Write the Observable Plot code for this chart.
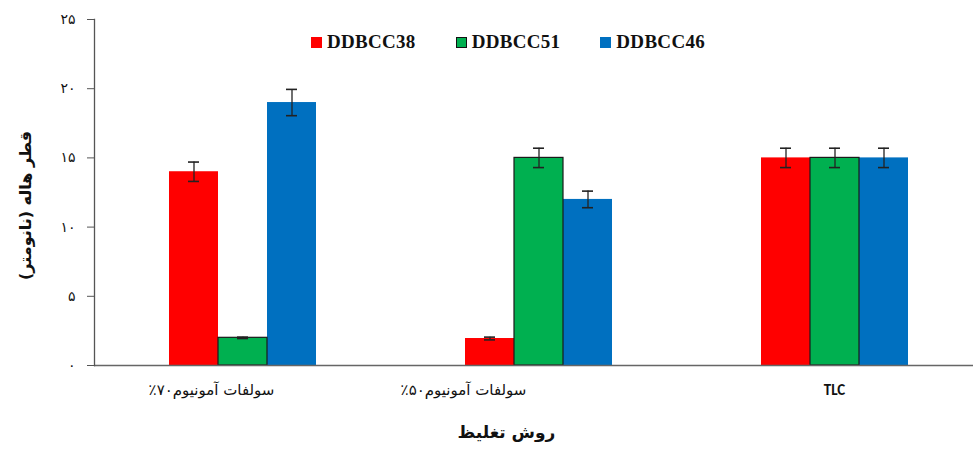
<!DOCTYPE html>
<html>
<head>
<meta charset="utf-8">
<script src="https://cdn.jsdelivr.net/npm/d3@7"></script>
<script src="https://cdn.jsdelivr.net/npm/@observablehq/plot@0.6"></script>
<style>
  body { margin: 0; background: #fff; }
  #wrap { position: relative; width: 973px; height: 450px; }
  #legend { position: absolute; top: 31px; left: 311px; display: flex; gap: 40px; align-items: center;
            font-family: "Liberation Serif", "Times New Roman", serif; font-weight: bold; font-size: 19px; color: #111; letter-spacing: 0.3px; }
  #legend .item { display: flex; align-items: center; gap: 5px; }
  #legend .sw { width: 11px; height: 11px; box-sizing: border-box; }
</style>
</head>
<body>
<div id="wrap"><div id="legend"></div></div>
<script>
const categories = ["سولفات آمونیوم۷۰٪", "سولفات آمونیوم۵۰٪", "TLC"];
const series = ["DDBCC38", "DDBCC51", "DDBCC46"];
const colors = ["#FF0000", "#00B050", "#0070C0"];
const values38 = [14.0, 1.95, 15.0];
const errors38 = [0.7, 0.1, 0.7];
const values51 = [2.0, 15.0, 15.0];
const errors51 = [0.05, 0.7, 0.7];
const values46 = [19.0, 12.0, 15.0];
const errors46 = [0.95, 0.6, 0.7];
const yTicks = [0, 5, 10, 15, 20, 25];
const yLabel = "قطر هاله (نانومتر)";
const xLabel = "روش تغلیظ";

const valueSets = [values38, values51, values46];
const errorSets = [errors38, errors51, errors46];
const rows = [];
categories.forEach((c, i) => series.forEach((s, j) => rows.push({cat: c, series: s, value: valueSets[j][i], err: errorSets[j][i]})));

const faDigits = "۰۱۲۳۴۵۶۷۸۹";
const fa = d => String(d).replace(/\d/g, m => faDigits[+m]);

const persianFont = "'DejaVu Sans', 'Liberation Serif', serif";

const chart = Plot.plot({
  width: 973,
  height: 450,
  marginTop: 19,
  marginBottom: 85,
  marginLeft: 94,
  marginRight: 0,
  style: {background: "transparent", overflow: "visible"},
  fx: {domain: categories, range: [94, 982], padding: 0, axis: null},
  x: {domain: series, paddingInner: 0, paddingOuter: 1.5, axis: null},
  y: {domain: [0, 25]},
  color: {domain: series, range: colors},
  marks: [
    Plot.axisY({ticks: yTicks, tickFormat: fa, tickSize: 7, tickPadding: 12, fontSize: 14, label: null, stroke: "#555", fill: "#111", fontFamily: persianFont}),
    Plot.barY(rows, {fx: "cat", x: "series", y: "value", fill: "series"}),
    Plot.barY(rows.filter(d => d.series === "DDBCC51"), {fx: "cat", x: "series", y: "value", fill: "none", stroke: "#1a1a1a", strokeWidth: 1.2}),
    Plot.ruleX(rows, {fx: "cat", x: "series", y1: d => d.value - d.err, y2: d => d.value + d.err, stroke: "#222", strokeWidth: 1.3}),
    Plot.tickY(rows, {fx: "cat", x: "series", y: d => d.value + d.err, insetLeft: 19, insetRight: 19, stroke: "#222", strokeWidth: 1.6}),
    Plot.tickY(rows, {fx: "cat", x: "series", y: d => d.value - d.err, insetLeft: 19, insetRight: 19, stroke: "#222", strokeWidth: 1.6}),
    Plot.ruleY([0], {stroke: "#666", strokeWidth: 1.3}),
    Plot.frame({anchor: "left", facetAnchor: "left", stroke: "#555", strokeWidth: 1.3}),
    Plot.text([categories[0]], {fx: d => d, text: d => d, frameAnchor: "bottom", dy: 29, dx: -31, fontSize: 15, fontFamily: persianFont, fill: "#111"}),
    Plot.text([categories[1]], {fx: d => d, text: d => d, frameAnchor: "bottom", dy: 29, dx: -75, fontSize: 15, fontFamily: persianFont, fill: "#111"}),
    Plot.text([categories[2]], {fx: d => d, text: d => d, frameAnchor: "bottom", dy: 29, fontSize: 15, fontWeight: "bold", fontFamily: "Carlito, 'Liberation Sans', Arial, sans-serif", fill: "#111"}),
    Plot.text([categories[1]], {fx: d => d, text: () => xLabel, frameAnchor: "bottom", dy: 72, dx: -32, fontSize: 17, fontWeight: "bold", fontFamily: persianFont, fill: "#111"}),
    Plot.text([categories[0]], {fx: d => d, text: () => yLabel, frameAnchor: "left", textAnchor: "middle", dx: -69, dy: 13, rotate: -90, fontSize: 16, fontWeight: "bold", fontFamily: persianFont, fill: "#111"})
  ]
});
// right-to-left base direction for Persian text
d3.select(chart).selectAll("text").filter(function () { return /[\u0600-\u06FF]/.test(this.textContent) && !/^[\u06F0-\u06F9]+$/.test(this.textContent); })
  .attr("direction", "rtl").style("unicode-bidi", "embed");
document.getElementById("wrap").prepend(chart);

const legend = document.getElementById("legend");
series.forEach((s, i) => {
  const item = document.createElement("div");
  item.className = "item";
  const sw = document.createElement("div");
  sw.className = "sw";
  sw.style.background = colors[i];
  if (s === "DDBCC51") sw.style.border = "1px solid #111";
  const t = document.createElement("span");
  t.textContent = s;
  item.append(sw, t);
  legend.append(item);
});
</script>
</body>
</html>
